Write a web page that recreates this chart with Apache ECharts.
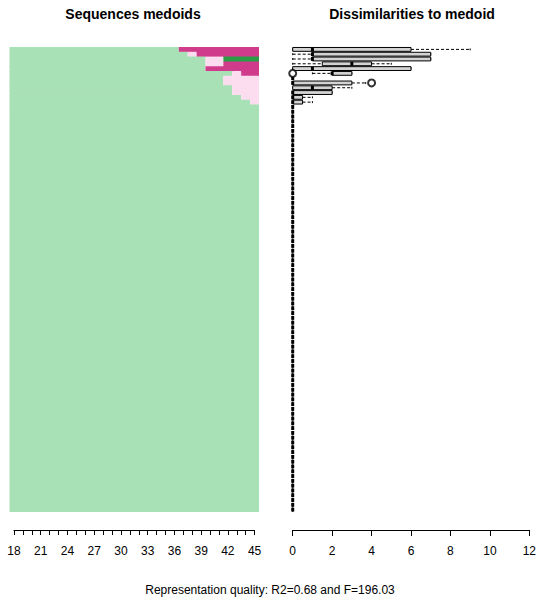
<!DOCTYPE html>
<html><head><meta charset="utf-8">
<script src="https://cdn.jsdelivr.net/npm/echarts@6/dist/echarts.min.js"></script>
<style>html,body{margin:0;padding:0;background:#fff}#c{width:539px;height:603px}</style>
</head><body><div id="c"></div>
<script>
// ---- data ----
const ageMin = 18, ageMax = 45;
const ageTickLabels = [18, 21, 24, 27, 30, 33, 36, 39, 42, 45];
const distTicks = [0, 2, 4, 6, 8, 10, 12];
const nRows = 97;
const stateColors = { G: '#A7E1B5', P: '#FCDDF0', M: '#D03B8C', D: '#2A9E45' };
// representative sequences (top rows), as spells [state, length]
const topSeqs = [
  [['G', 19], ['M', 9]],
  [['G', 20], ['P', 1], ['M', 7]],
  [['G', 22], ['P', 2], ['D', 4]],
  [['G', 22], ['P', 2], ['M', 4]],
  [['G', 22], ['M', 6]],
  [['G', 25], ['P', 1], ['M', 2]],
  [['G', 24], ['P', 4]],
  [['G', 24], ['P', 4]],
  [['G', 25], ['P', 3]],
  [['G', 25], ['P', 3]],
  [['G', 26], ['P', 2]],
  [['G', 27], ['P', 1]]
];
const restSeq = [['G', 28]];
// boxplot statistics of dissimilarities (top rows; remaining rows all zero)
const bxMin = [0, 0, 0, 0,   0, 1, 0, 0,   0, 0, 0,   0];
const bxQ1  = [0, 1, 1, 1.5, 0, 2, 0, 0,   0, 0, 0,   0];
const bxMed = [1, 1, 1, 3,   1, 2, 0, 0,   1, 0, 0,   0];
const bxQ3  = [6, 7, 7, 4,   6, 3, 0, 3,   2, 2, 0.5, 0.5];
const bxMax = [9, 7, 7, 5,   6, 3, 0, 3.7, 3, 2, 1,   1];
const outliers = [[0, 5], [4, 7]]; // [value, row]
const titleLeft = 'Sequences medoids';
const titleRight = 'Dissimilarities to medoid';
const footer = 'Representation quality: R2=0.68 and F=196.03';

// ---- build ----
const rowCats = [];
for (let i = 0; i < nRows; i++) rowCats.push(String(i));
// items: [ageStart, ageEnd, rowStart, rowEnd, state]
const seqData = [];
topSeqs.forEach((spells, r) => {
  let a = ageMin;
  spells.forEach(([s, len]) => {
    seqData.push([a, a + len - 1, r, r, s]);
    a += len;
  });
});
{
  let a = ageMin;
  restSeq.forEach(([s, len]) => {
    seqData.push([a, a + len - 1, topSeqs.length, nRows - 1, s]);
    a += len;
  });
}
const boxData = [];
for (let r = 0; r < nRows; r++) {
  if (r < bxMin.length) boxData.push([r, bxMin[r], bxQ1[r], bxMed[r], bxQ3[r], bxMax[r]]);
  else boxData.push([r, 0, 0, 0, 0, 0]);
}
const font = '"Liberation Sans", Arial, Helvetica, sans-serif';
const chart = echarts.init(document.getElementById('c'), null, { renderer: 'svg' });
const axisCommon = {
  axisLine: { show: true, lineStyle: { color: '#000', width: 1 } },
  axisTick: { show: true, length: 5, lineStyle: { color: '#000', width: 1 } },
  splitLine: { show: false },
  axisLabel: { color: '#000', fontSize: 12, fontFamily: font, margin: 15 }
};
chart.setOption({
  animation: false,
  backgroundColor: '#fff',
  grid: [
    { left: 9.5, top: 47, width: 249.5, height: 465 },
    { left: 292.7, top: 47, width: 238.3, height: 465 },
    { left: 14, top: 512, width: 240.6, height: 18 }
  ],
  xAxis: [
    { gridIndex: 0, type: 'value', min: ageMin - 0.5, max: ageMax + 0.5, show: false },
    Object.assign({}, axisCommon, {
      gridIndex: 1, type: 'value', min: distTicks[0], max: distTicks[distTicks.length - 1],
      interval: distTicks[1] - distTicks[0], position: 'bottom', offset: 18,
      axisTick: { show: true, length: 6, lineStyle: { color: '#000' } }
    }),
    Object.assign({}, axisCommon, {
      gridIndex: 2, type: 'value', min: ageMin, max: ageMax, interval: 1, position: 'bottom',
      axisLabel: Object.assign({}, axisCommon.axisLabel, {
        formatter: v => ageTickLabels.indexOf(v) >= 0 ? String(v) : ''
      })
    })
  ],
  yAxis: [
    { gridIndex: 0, type: 'category', data: rowCats, inverse: true, show: false },
    { gridIndex: 1, type: 'category', data: rowCats, inverse: true, show: false },
    { gridIndex: 2, type: 'value', show: false }
  ],
  series: [
    {
      type: 'custom', xAxisIndex: 0, yAxisIndex: 0, data: seqData,
      renderItem: (params, api) => {
        const s = api.value(0), e = api.value(1), r0 = api.value(2), r1 = api.value(3);
        const st = seqData[params.dataIndex][4];
        const p0 = api.coord([s - 0.5, r0]);
        const p1 = api.coord([e + 0.5, r1]);
        const h = api.size([0, 1])[1];
        const y0 = p0[1] - h / 2, y1 = p1[1] + h / 2;
        const last = r1 === nRows - 1;
        return {
          type: 'rect',
          shape: { x: p0[0], y: y0, width: p1[0] - p0[0], height: y1 - y0 + (last ? 0 : 0.7) },
          style: { fill: stateColors[st] }
        };
      }
    },
    {
      type: 'custom', xAxisIndex: 1, yAxisIndex: 1, data: boxData,
      renderItem: (params, api) => {
        const r = api.value(0);
        const mn = api.value(1), q1 = api.value(2), md = api.value(3), q3 = api.value(4), mx = api.value(5);
        const h = api.size([0, 1])[1] * 0.8;
        const c = api.coord([0, r])[1];
        const X = v => api.coord([v, r])[0];
        const children = [];
        if (mn < q1) children.push({ type: 'line', shape: { x1: X(mn), y1: c, x2: X(q1), y2: c }, style: { stroke: '#000', lineWidth: 1, lineDash: [3, 2] } });
        if (mx > q3) children.push({ type: 'line', shape: { x1: X(q3), y1: c, x2: X(mx), y2: c }, style: { stroke: '#000', lineWidth: 1, lineDash: [3, 2] } });
        children.push({ type: 'line', shape: { x1: X(mn), y1: c - h / 4, x2: X(mn), y2: c + h / 4 }, style: { stroke: '#000', lineWidth: 1 } });
        children.push({ type: 'line', shape: { x1: X(mx), y1: c - h / 4, x2: X(mx), y2: c + h / 4 }, style: { stroke: '#000', lineWidth: 1 } });
        children.push({ type: 'rect', shape: { x: X(q1), y: c - h / 2, width: X(q3) - X(q1), height: h }, style: { fill: '#D3D3D3', stroke: '#000', lineWidth: 1 } });
        children.push({ type: 'line', shape: { x1: X(md), y1: c - h / 2, x2: X(md), y2: c + h / 2 }, style: { stroke: '#000', lineWidth: 3 } });
        return { type: 'group', children };
      }
    },
    {
      type: 'scatter', xAxisIndex: 1, yAxisIndex: 1,
      data: outliers, symbol: 'emptyCircle', symbolSize: 7,
      itemStyle: { color: '#000', borderColor: '#000', borderWidth: 1 }
    }
  ],
  graphic: [
    { type: 'text', x: 133, y: 14, style: { text: titleLeft, font: 'bold 14px ' + font, fill: '#000', align: 'center', verticalAlign: 'middle' } },
    { type: 'text', x: 412, y: 14, style: { text: titleRight, font: 'bold 14px ' + font, fill: '#000', align: 'center', verticalAlign: 'middle' } },
    { type: 'text', x: 270, y: 590, style: { text: footer, font: '12px ' + font, fill: '#000', align: 'center', verticalAlign: 'middle' } }
  ]
});
</script></body></html>
